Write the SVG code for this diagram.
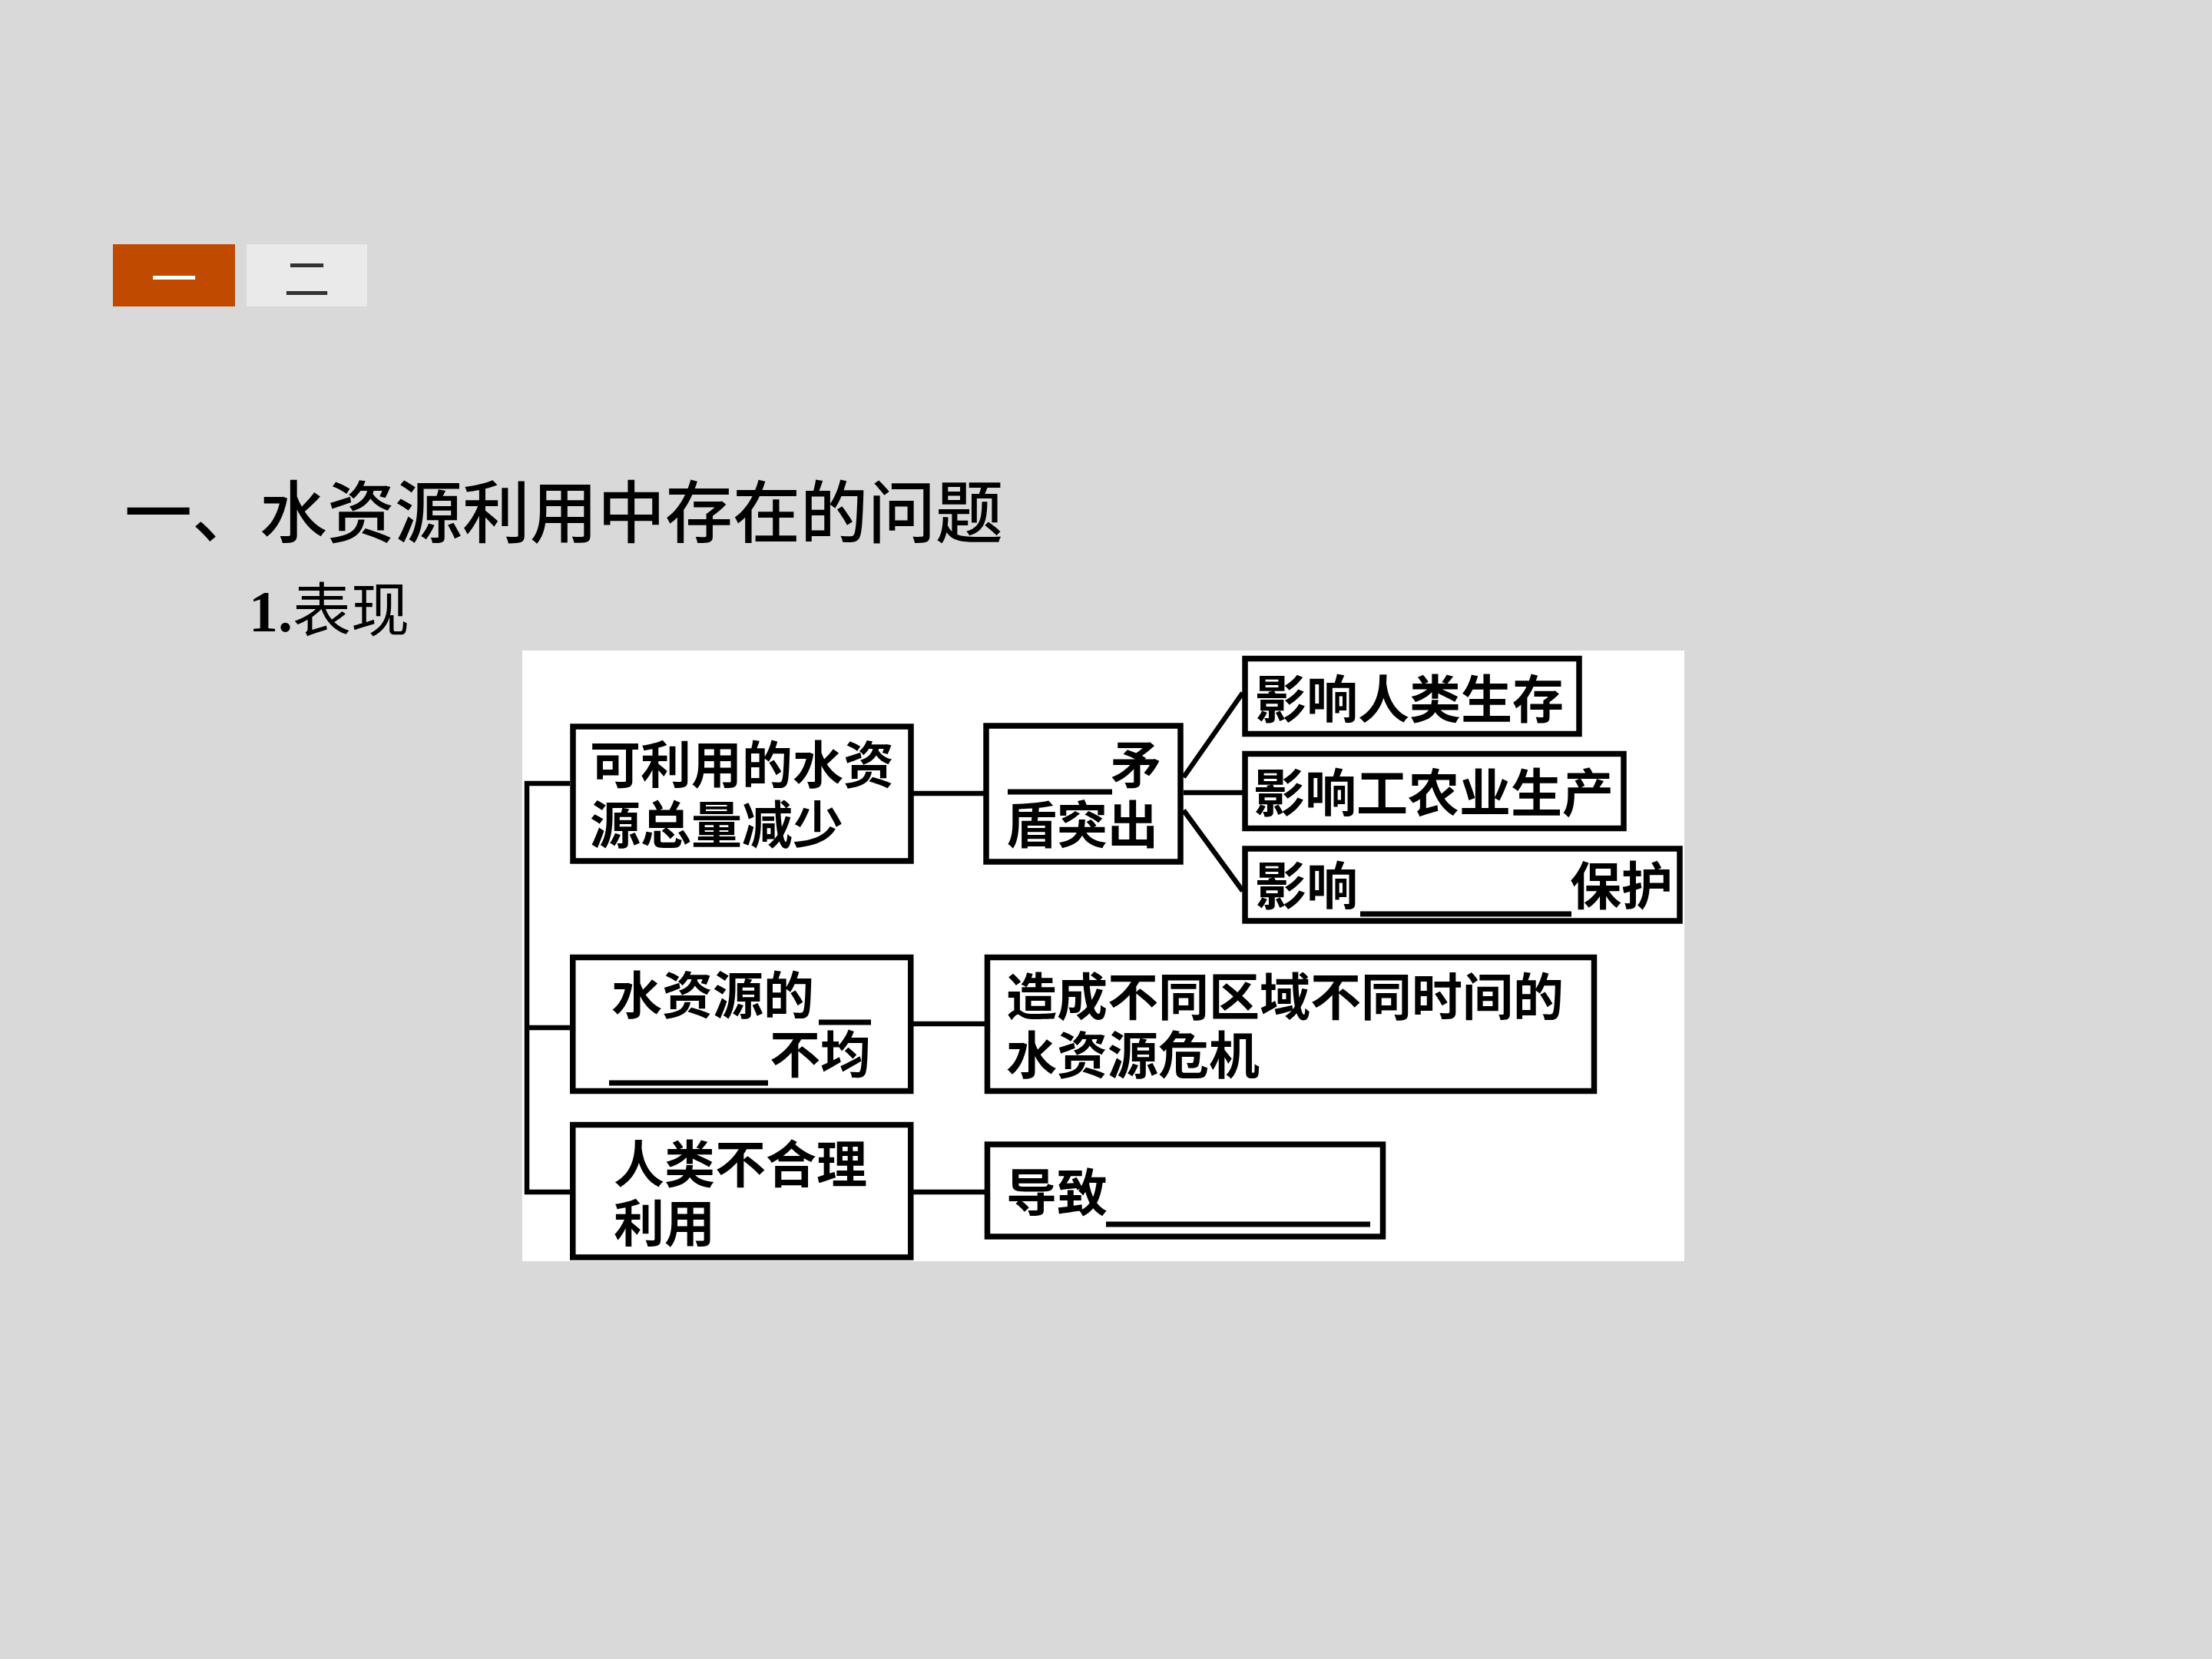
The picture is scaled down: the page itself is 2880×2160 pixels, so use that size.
<svg xmlns="http://www.w3.org/2000/svg" width="2880" height="2160" viewBox="0 0 2880 2160">
<style>
.cjk{font-family:"Noto Sans CJK SC","Noto Sans",sans-serif;fill:#000}
.box{fill:#fff;stroke:#000;stroke-width:7.5}
.bt{font-family:"Noto Sans CJK SC",sans-serif;font-size:66px;font-weight:bold;fill:#000}
.ul{stroke:#000;stroke-width:7;fill:none}
.conn line,.conn polyline{stroke:#000;stroke-width:6.5;fill:none}
</style>
<rect x="0" y="0" width="2880" height="2160" fill="#D9D9D9"/>
<g id="tabs">
<rect x="147" y="318" width="159" height="81" fill="#C04A00"/>
<text x="226.5" y="358.5" class="cjk" font-size="60" style="fill:#fff" text-anchor="middle" dominant-baseline="central">一</text>
<rect x="321" y="318" width="157" height="81" fill="#EAEAEA"/>
<text x="399.5" y="358.5" class="cjk" font-size="60" style="fill:#333" text-anchor="middle" dominant-baseline="central">二</text>
</g>
<g id="headings">
<text x="162" y="699" class="cjk" font-size="88" font-weight="500">一、水资源利用中存在的问题</text>
<text x="324" y="822" font-size="76"><tspan font-family="Liberation Serif, serif" font-weight="bold">1.</tspan><tspan class="cjk">表现</tspan></text>
</g>
<rect x="680" y="847" width="1513" height="795" fill="#fff"/>
<g class="conn" id="connectors">
<polyline points="742,1020 686,1020 686,1552 742,1552"/>
<line x1="686" y1="1338" x2="742" y2="1338"/>
<line x1="1189" y1="1033" x2="1281" y2="1033"/>
<line x1="1541" y1="1012" x2="1618" y2="902"/>
<line x1="1541" y1="1032" x2="1618" y2="1032"/>
<line x1="1541" y1="1055" x2="1618" y2="1160"/>
<line x1="1189" y1="1333" x2="1282" y2="1333"/>
<line x1="1189" y1="1552" x2="1282" y2="1552"/>
</g>
<g id="nodeA">
<rect class="box" x="746" y="946" width="440" height="175"/>
<text class="bt"><tspan x="768" y="1020">可利用的水资</tspan><tspan x="768" y="1098">源总量减少</tspan></text>
</g>
<g id="nodeB">
<rect class="box" x="1284" y="945" width="253" height="177"/>
<line class="ul" x1="1312" y1="1031" x2="1448" y2="1031"/>
<text class="bt"><tspan x="1446" y="1020">矛</tspan><tspan x="1310" y="1098">盾突出</tspan></text>
</g>
<g id="nodeC1">
<rect class="box" x="1621" y="857.5" width="435" height="98"/>
<text class="bt" x="1634" y="935" style="font-size:67px">影响人类生存</text>
</g>
<g id="nodeC2">
<rect class="box" x="1621" y="981.5" width="493" height="97"/>
<text class="bt" x="1632" y="1057" style="font-size:67px">影响工农业生产</text>
</g>
<g id="nodeC3">
<rect class="box" x="1621" y="1105" width="566" height="94"/>
<line class="ul" x1="1771" y1="1190" x2="2046" y2="1190"/>
<text class="bt" style="font-size:67px"><tspan x="1634" y="1178">影响</tspan><tspan x="2044" y="1178">保护</tspan></text>
</g>
<g id="nodeD">
<rect class="box" x="745.75" y="1246.5" width="440" height="174"/>
<line class="ul" x1="1066" y1="1331" x2="1134" y2="1331"/>
<line class="ul" x1="793" y1="1410" x2="1000" y2="1410"/>
<text class="bt"><tspan x="796" y="1320">水资源的</tspan><tspan x="1002" y="1397">不均</tspan></text>
</g>
<g id="nodeE">
<rect class="box" x="745.75" y="1464.5" width="440" height="172.5"/>
<text class="bt"><tspan x="799" y="1540">人类不合理</tspan><tspan x="799" y="1617">利用</tspan></text>
</g>
<g id="nodeF">
<rect class="box" x="1285.5" y="1246.5" width="790" height="174"/>
<text class="bt"><tspan x="1310" y="1322">造成不同区域不同时间的</tspan><tspan x="1310" y="1398">水资源危机</tspan></text>
</g>
<g id="nodeG">
<rect class="box" x="1285.5" y="1490" width="515" height="120"/>
<line class="ul" x1="1440" y1="1594" x2="1784" y2="1594"/>
<text class="bt" x="1310" y="1577">导致</text>
</g>
</svg>
